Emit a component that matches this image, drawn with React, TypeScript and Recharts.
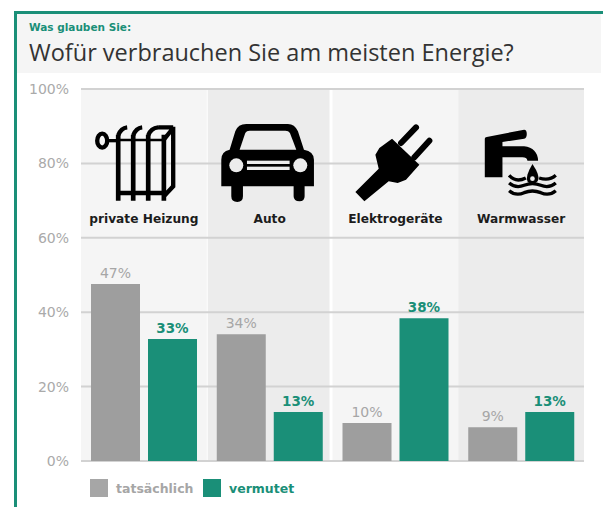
import { BarChart, Bar, XAxis, YAxis, CartesianGrid, ReferenceArea, LabelList, Legend } from 'recharts';

const categories = ['private Heizung', 'Auto', 'Elektrogeräte', 'Warmwasser'];
const actual = [47.6, 34.1, 10.2, 9.1];
const assumed = [32.8, 13.2, 38.4, 13.2];
const actualLabels = ['47%', '34%', '10%', '9%'];
const assumedLabels = ['33%', '13%', '38%', '13%'];
const yTicks = [0, 20, 40, 60, 80, 100];

const GREEN = '#1a8f78';
const GREY = '#9e9e9e';
const LIGHT = '#f5f5f5';
const DARK = '#ececec';
const LABEL_FONT = '"DejaVu Sans", sans-serif';

const data = categories.map((name, i) => ({
  name,
  actual: actual[i],
  assumed: assumed[i],
  actualLabel: actualLabels[i],
  assumedLabel: assumedLabels[i],
}));

// icons are traced at 3x, hence the scale on the group
function Radiator() {
  return (
    <g transform="translate(-54,29) scale(0.3333)" fill="none" stroke="#000" strokeWidth={13}>
      <ellipse cx={37} cy={68} rx={15} ry={21} />
      <path d="M50 68H85" strokeWidth={10} />
      <path d="M85 50V248M130 50V248M175 50V248M222 50V248" strokeWidth={14} />
      <path d="M80 225H232" strokeWidth={14} />
      <path d="M85 66H222" strokeWidth={7} />
      <path d="M85 52Q93 30 112 28M130 52Q138 30 157 28M175 52Q183 30 205 28M205 28H250M222 65L250 30M250 26V205L222 235" />
    </g>
  );
}

function Car() {
  return (
    <g transform="translate(-55,29) scale(0.3333)">
      <path d="M20 125Q20 100 45 95L62 40Q70 18 95 18H220Q240 18 250 40L268 95Q298 100 298 125V205H270V235Q270 250 255 250Q237 250 237 235V205H85V235Q85 252 68 252Q50 252 50 235V205H20Z" fill="#000" />
      <path d="M75 95L92 45Q96 38 105 38H212Q222 38 226 45L245 95Z" fill={DARK} />
      <circle cx={65} cy={142} r={21} fill={DARK} />
      <circle cx={257} cy={142} r={21} fill={DARK} />
      <rect x={97} y={128} width={128} height={10} fill={DARK} />
      <rect x={97} y={146} width={128} height={10} fill={DARK} />
    </g>
  );
}

function Plug() {
  return (
    <g transform="translate(-46,29) scale(0.3333)">
      <path d="M155 75L200 28M195 118L240 68" stroke="#000" strokeWidth={18} strokeLinecap="round" />
      <path d="M128 62L210 140L170 185L145 195L118 190L45 250L18 222L88 152L78 110L90 90Z" fill="#000" />
    </g>
  );
}

function Faucet() {
  return (
    <g transform="translate(-47,29) scale(0.3333)">
      <path d="M32 62Q32 58 38 57L150 35Q158 35 158 48Q158 60 150 62L85 72V85H150Q190 90 192 128H160Q158 118 145 118H85V178H32Z" fill="#000" />
      <path d="M175 138Q200 175 191 189Q177 206 161 192Q151 178 175 138Z" fill="#000" />
      <circle cx={175} cy={182} r={7} fill={DARK} />
      <path d="M105 172Q125 195 155 180M195 180Q225 190 245 172M105 195Q125 212 150 202Q175 192 200 202Q225 212 245 195M105 218Q125 235 150 224Q175 214 200 224Q225 235 245 218" fill="none" stroke="#000" strokeWidth={10} />
    </g>
  );
}

const icons: Record<string, () => JSX.Element> = {
  'private Heizung': Radiator,
  Auto: Car,
  'Elektrogeräte': Plug,
  Warmwasser: Faucet,
};

// top axis carries the pictogram and its caption for each category
function CategoryTick({ x, payload }: any) {
  const Icon = icons[payload.value];
  return (
    <g transform={`translate(${x},89)`}>
      <Icon />
      <text y={134} textAnchor="middle" fontFamily={LABEL_FONT} fontWeight={700} fontSize={12.2} fill="#1c1c1c">
        {payload.value}
      </text>
    </g>
  );
}

// alternating columns behind the grid, sized from the plot rect
function Bands({ x, y, width, height }: any) {
  const step = width / categories.length;
  return (
    <g>
      {categories.map((c, i) => (
        <rect
          key={c}
          x={x + i * step + (i === 1 ? 1 : 0)}
          y={y}
          width={step - (i === 1 ? 4 : 0)}
          height={height}
          fill={i % 2 ? DARK : LIGHT}
        />
      ))}
    </g>
  );
}

function LegendRow() {
  const item = (label: string, color: string, width: number) => (
    <div style={{ display: 'flex', alignItems: 'center', width }}>
      <span style={{ width: 18, height: 18, background: color, marginRight: 8 }} />
      <span style={{ color, fontFamily: LABEL_FONT, fontWeight: 700, fontSize: 12.5 }}>{label}</span>
    </div>
  );
  return (
    <div style={{ display: 'flex' }}>
      {item('tatsächlich', '#a6a6a6', 113)}
      {item('vermutet', GREEN, 100)}
    </div>
  );
}

export default function App() {
  return (
    <div style={{ position: 'absolute', left: 0, top: 0, width: 603, height: 507, background: '#fff', overflow: 'hidden' }}>
      <div style={{ position: 'absolute', left: 14, top: 11, width: 586, height: 520, borderTop: `3px solid ${GREEN}`, borderLeft: `3px solid ${GREEN}`, borderRight: '1px solid #5fb5a5' }} />
      <div style={{ position: 'absolute', left: 17, top: 14, width: 584, height: 59, background: LIGHT }}>
        <div style={{ position: 'absolute', left: 12, top: 7, fontFamily: LABEL_FONT, fontWeight: 700, fontSize: 10.5, color: GREEN }}>
          Was glauben Sie:
        </div>
        <div style={{ position: 'absolute', left: 12, top: 22, fontFamily: '"Open Sans", sans-serif', fontSize: 23.5, color: '#333', whiteSpace: 'nowrap' }}>
          Wofür verbrauchen Sie am meisten Energie?
        </div>
      </div>
      <div style={{ position: 'absolute', left: 0, top: 0 }}>
        <BarChart
          width={603}
          height={507}
          data={data}
          margin={{ top: 88, right: 19, bottom: 28, left: 0 }}
          barCategoryGap={10}
          barGap={8}
          barSize={49}
        >
          <XAxis dataKey="name" orientation="top" height={1} axisLine={false} tickLine={false} tick={(p: any) => <CategoryTick {...p} />} interval={0} />
          <YAxis
            domain={[0, 100]}
            ticks={yTicks}
            width={81}
            axisLine={false}
            tickLine={false}
            tickSize={0}
            tickMargin={12}
            tickFormatter={(v) => `${v}%`}
            tick={{ fill: '#aaaaaa', fontFamily: LABEL_FONT, fontSize: 14 }}
          />
          <ReferenceArea y1={0} y2={100} shape={<Bands />} stroke="none" zIndex={-200} />
          <CartesianGrid vertical={false} stroke="#d2d2d2" strokeWidth={2} zIndex={-100} />
          <Legend
            content={<LegendRow />}
            wrapperStyle={{ position: 'absolute', left: 90, top: 479, width: 260, bottom: 'auto' }}
          />
          <Bar dataKey="actual" fill={GREY} isAnimationActive={false}>
            <LabelList dataKey="actualLabel" position="top" offset={6} fill="#a6a6a6" fontFamily={LABEL_FONT} fontSize={14} />
          </Bar>
          <Bar dataKey="assumed" fill={GREEN} isAnimationActive={false}>
            <LabelList dataKey="assumedLabel" position="top" offset={6} fill={GREEN} fontFamily={LABEL_FONT} fontWeight={700} fontSize={13.5} />
          </Bar>
        </BarChart>
      </div>
    </div>
  );
}
